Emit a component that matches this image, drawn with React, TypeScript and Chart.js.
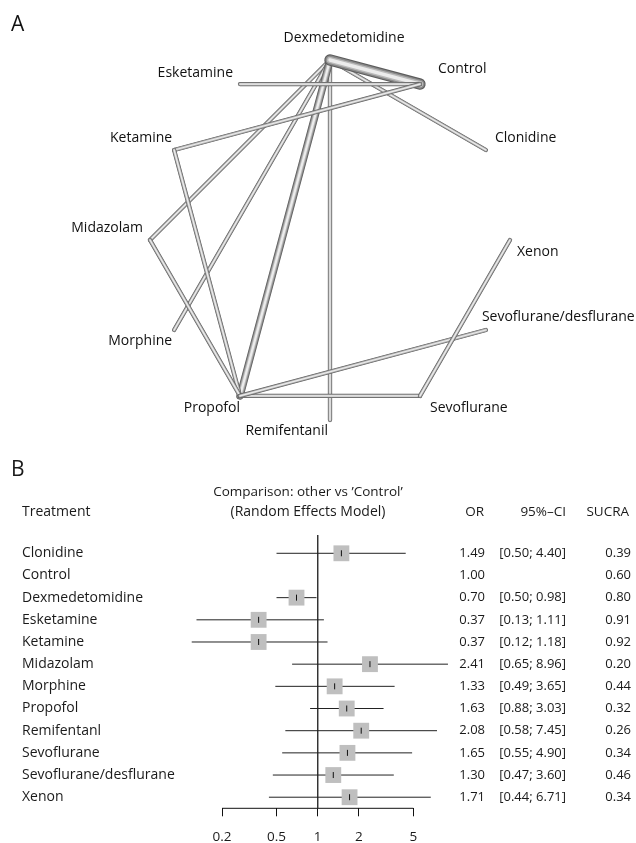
import React, { useEffect, useRef } from "react";
import { Chart, registerables } from "chart.js";

Chart.register(...registerables);

const FONT = '"Open Sans", "Noto Sans", "DejaVu Sans", sans-serif';
Chart.defaults.font.family = FONT;

// ---------------- Panel A: network (nodes in circular order) ----------------
const nodeNames = [
  "Dexmedetomidine",
  "Control",
  "Clonidine",
  "Xenon",
  "Sevoflurane/desflurane",
  "Sevoflurane",
  "Remifentanil",
  "Propofol",
  "Morphine",
  "Midazolam",
  "Ketamine",
  "Esketamine",
];
const edgeFrom = [
  "Dexmedetomidine",
  "Dexmedetomidine",
  "Dexmedetomidine",
  "Dexmedetomidine",
  "Dexmedetomidine",
  "Dexmedetomidine",
  "Control",
  "Control",
  "Propofol",
  "Propofol",
  "Propofol",
  "Propofol",
  "Sevoflurane",
];
const edgeTo = [
  "Remifentanil",
  "Clonidine",
  "Midazolam",
  "Morphine",
  "Propofol",
  "Control",
  "Esketamine",
  "Ketamine",
  "Ketamine",
  "Midazolam",
  "Sevoflurane",
  "Sevoflurane/desflurane",
  "Xenon",
];
const edgeStudies = [1, 1, 1, 1, 3, 7, 1, 1, 1, 1, 1, 1, 1];

// ---------------- Panel B: forest plot ----------------
const treatments = [
  "Clonidine",
  "Control",
  "Dexmedetomidine",
  "Esketamine",
  "Ketamine",
  "Midazolam",
  "Morphine",
  "Propofol",
  "Remifentanl",
  "Sevoflurane",
  "Sevoflurane/desflurane",
  "Xenon",
];
const oddsRatio = [1.49, 1.0, 0.7, 0.37, 0.37, 2.41, 1.33, 1.63, 2.08, 1.65, 1.3, 1.71];
const ciLower = [0.5, null, 0.5, 0.13, 0.12, 0.65, 0.49, 0.88, 0.58, 0.55, 0.47, 0.44];
const ciUpper = [4.4, null, 0.98, 1.11, 1.18, 8.96, 3.65, 3.03, 7.45, 4.9, 3.6, 6.71];
const sucra = [0.39, 0.6, 0.8, 0.91, 0.92, 0.2, 0.44, 0.32, 0.26, 0.34, 0.46, 0.34];
const axisTicks = [0.2, 0.5, 1, 2, 5];

// ---------------- layout / style ----------------
const A_H = 450;
const B_TOP = 450;
const B_H = 843 - B_TOP;

// label offsets (px) from node, and alignment
const labelLayout: Record<string, [number, number, CanvasTextAlign]> = {
  Dexmedetomidine: [14, -22, "center"],
  Control: [18, -15, "left"],
  Clonidine: [9, -12, "left"],
  Xenon: [7, 12, "left"],
  "Sevoflurane/desflurane": [-4, -13, "left"],
  Sevoflurane: [10, 12, "left"],
  Remifentanil: [-2, 11, "right"],
  Propofol: [0, 12, "right"],
  Morphine: [-2, 11, "right"],
  Midazolam: [-7, -12, "right"],
  Ketamine: [-2, -12, "right"],
  Esketamine: [-7, -11, "right"],
};

function nodePos(name: string) {
  const i = nodeNames.indexOf(name);
  const a = (i * 2 * Math.PI) / nodeNames.length;
  return { x: Math.sin(a), y: Math.cos(a) };
}

const tubeLayers = [
  { c: "#5c5c5c", f: 1 },
  { c: "#8a8a8a", f: 0.8 },
  { c: "#bababa", f: 0.56 },
  { c: "#ececec", f: 0.3 },
];

function networkConfig(): any {
  const datasets: any[] = [];
  let seq = 0;
  const total = edgeFrom.length * tubeLayers.length;
  edgeFrom.forEach((from, k) => {
    const p = nodePos(from);
    const q = nodePos(edgeTo[k]);
    const w = 4.3 * Math.sqrt(edgeStudies[k]);
    tubeLayers.forEach((L) => {
      datasets.push({
        type: "line",
        data: [p, q],
        borderColor: L.c,
        borderWidth: w * L.f,
        borderCapStyle: "round",
        borderJoinStyle: "round",
        pointRadius: 0,
        fill: false,
        clip: false,
        order: total - seq,
      });
      seq++;
    });
  });

  const labelPlugin = {
    id: "netLabels",
    afterDatasetsDraw(chart: any) {
      const { ctx } = chart;
      const xs = chart.scales.x;
      const ys = chart.scales.y;
      ctx.save();
      ctx.fillStyle = "#111";
      ctx.textBaseline = "middle";
      ctx.font = `21px ${FONT}`;
      ctx.textAlign = "left";
      ctx.fillText("A", 11, 25);
      ctx.font = `14px ${FONT}`;
      nodeNames.forEach((n) => {
        const p = nodePos(n);
        const [dx, dy, al] = labelLayout[n];
        ctx.textAlign = al;
        ctx.fillText(n, xs.getPixelForValue(p.x) + dx, ys.getPixelForValue(p.y) + dy);
      });
      ctx.restore();
    },
  };

  return {
    type: "line",
    data: { datasets },
    options: {
      animation: false,
      responsive: false,
      events: [],
      layout: { padding: 0 },
      plugins: { legend: { display: false }, tooltip: { enabled: false } },
      scales: {
        x: { type: "linear", display: false, min: -330 / 180, max: 306 / 180 },
        y: { type: "linear", display: false, min: -(A_H - 240) / 180, max: 240 / 180 },
      },
    },
    plugins: [labelPlugin],
  };
}

function forestConfig(): any {
  const datasets: any[] = [];
  const est = treatments
    .map((t, i) => (ciLower[i] == null ? null : { x: oddsRatio[i], y: i }))
    .filter((d) => d) as any[];
  datasets.push({
    type: "line",
    data: est,
    showLine: false,
    pointStyle: "line",
    rotation: 90,
    pointRadius: 3,
    borderColor: "#111",
    pointBorderColor: "#111",
    pointBorderWidth: 1,
    order: 0,
    clip: false,
  });
  datasets.push({
    type: "line",
    data: est,
    showLine: false,
    pointStyle: "rect",
    pointRadius: 11.2,
    pointBackgroundColor: "#bfbfbf",
    pointBorderColor: "#bfbfbf",
    pointBorderWidth: 0,
    order: 1,
    clip: false,
  });
  treatments.forEach((t, i) => {
    if (ciLower[i] == null) return;
    datasets.push({
      type: "line",
      data: [
        { x: ciLower[i], y: i },
        { x: ciUpper[i], y: i },
      ],
      borderColor: "#222",
      borderWidth: 1,
      pointRadius: 0,
      order: 2,
      clip: false,
    });
  });
  // reference line at OR = 1
  datasets.push({
    type: "line",
    data: [
      { x: 1, y: -0.825 },
      { x: 1, y: treatments.length - 0.5 },
    ],
    borderColor: "#333",
    borderWidth: 1,
    pointRadius: 0,
    order: 3,
    clip: false,
  });
  // axis line between first and last tick
  datasets.push({
    type: "line",
    data: [
      { x: axisTicks[0], y: treatments.length - 0.5 },
      { x: axisTicks[axisTicks.length - 1], y: treatments.length - 0.5 },
    ],
    borderColor: "#111",
    borderWidth: 1,
    pointRadius: 0,
    order: 3,
    clip: false,
  });

  const textPlugin = {
    id: "forestText",
    afterDatasetsDraw(chart: any) {
      const { ctx } = chart;
      const ys = chart.scales.y;
      ctx.save();
      ctx.fillStyle = "#1a1a1a";
      ctx.textBaseline = "middle";
      ctx.font = `21px ${FONT}`;
      ctx.textAlign = "left";
      ctx.fillText("B", 11, 20);
      ctx.textAlign = "center";
      ctx.font = `13.5px ${FONT}`;
      ctx.fillText("Comparison: other vs \u2019Control\u2019", 308, 42);
      ctx.font = `14px ${FONT}`;
      ctx.fillText("(Random Effects Model)", 308, 62);
      ctx.textAlign = "left";
      ctx.fillText("Treatment", 22, 62);
      ctx.font = `13.5px ${FONT}`;
      ctx.textAlign = "right";
      ctx.fillText("OR", 484, 62);
      ctx.fillText("95%\u2013CI", 566, 62);
      ctx.fillText("SUCRA", 629, 62);
      treatments.forEach((t, i) => {
        const y = ys.getPixelForValue(i);
        ctx.font = `14px ${FONT}`;
        ctx.textAlign = "left";
        ctx.fillText(t, 22, y);
        ctx.font = `13px ${FONT}`;
        ctx.textAlign = "right";
        ctx.fillText(oddsRatio[i].toFixed(2), 485, y);
        if (ciLower[i] != null) {
          ctx.fillText(
            `[${(ciLower[i] as number).toFixed(2)}; ${(ciUpper[i] as number).toFixed(2)}]`,
            566,
            y
          );
        }
        ctx.fillText(sucra[i].toFixed(2), 631, y);
      });
      ctx.restore();
    },
  };

  const left = 180;
  const right = 460;
  const onePx = 317.7;
  const perDecade = 136.8;
  return {
    type: "line",
    data: { datasets },
    options: {
      animation: false,
      responsive: false,
      events: [],
      layout: { padding: { left, right: 636 - right, top: 85, bottom: 0 } },
      plugins: { legend: { display: false }, tooltip: { enabled: false } },
      scales: {
        x: {
          type: "logarithmic",
          min: Math.pow(10, (left - onePx) / perDecade),
          max: Math.pow(10, (right - onePx) / perDecade),
          afterBuildTicks: (scale: any) => {
            scale.ticks = axisTicks.map((v) => ({ value: v }));
          },
          afterFit: (scale: any) => {
            scale.height = B_H - 358.3;
          },
          grid: {
            display: true,
            drawOnChartArea: false,
            drawTicks: true,
            tickLength: 8,
            color: "#111",
            lineWidth: 1,
          },
          border: { display: false },
          ticks: {
            autoSkip: false,
            maxRotation: 0,
            padding: 13,
            color: "#1a1a1a",
            font: { size: 13.5, family: FONT },
            callback: (v: any) => String(v),
          },
        },
        y: {
          type: "linear",
          display: false,
          reverse: true,
          min: -0.825,
          max: treatments.length - 0.5,
        },
      },
    },
    plugins: [textPlugin],
  };
}

export default function App() {
  const aRef = useRef<HTMLCanvasElement>(null);
  const bRef = useRef<HTMLCanvasElement>(null);
  useEffect(() => {
    const ca = new Chart(aRef.current as HTMLCanvasElement, networkConfig());
    const cb = new Chart(bRef.current as HTMLCanvasElement, forestConfig());
    return () => {
      ca.destroy();
      cb.destroy();
    };
  }, []);
  return (
    <div
      style={{
        position: "fixed",
        left: 0,
        top: 0,
        width: 636,
        height: 843,
        background: "#fff",
        overflow: "hidden",
      }}
    >
      <canvas
        ref={aRef}
        width={636}
        height={A_H}
        style={{ position: "absolute", left: 0, top: 0, width: 636, height: A_H }}
      />
      <canvas
        ref={bRef}
        width={636}
        height={B_H}
        style={{ position: "absolute", left: 0, top: B_TOP, width: 636, height: B_H }}
      />
    </div>
  );
}
